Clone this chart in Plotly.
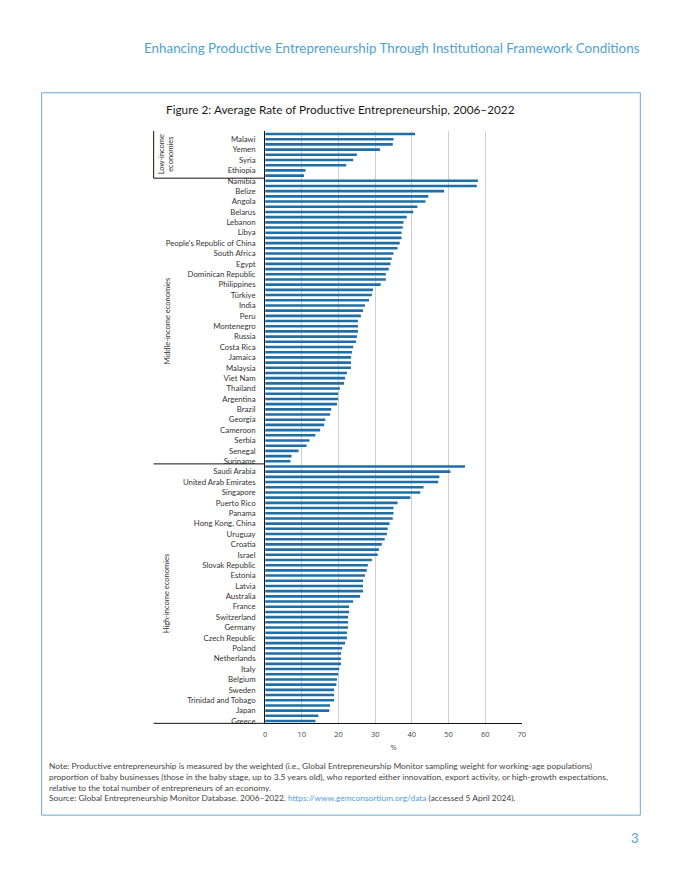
import plotly.graph_objects as go

# ---------------- data ----------------
low_labels = ["", "Malawi", "", "Yemen", "", "Syria", "", "Ethiopia", ""]
low_values = [40.9, 35.0, 34.8, 31.3, 25.0, 24.0, 22.1, 11.0, 10.6]

mid_labels = ["Namibia", "", "Belize", "", "Angola", "", "Belarus", "", "Lebanon", "",
              "Libya", "", "People's Republic of China", "", "South Africa", "", "Egypt", "",
              "Dominican Republic", "", "Philippines", "", "Türkiye", "", "India", "",
              "Peru", "", "Montenegro", "", "Russia", "", "Costa Rica", "", "Jamaica", "",
              "Malaysia", "", "Viet Nam", "", "Thailand", "", "Argentina", "", "Brazil", "",
              "Georgia", "", "Cameroon", "", "Serbia", "", "Senegal", "", "Suriname"]
mid_values = [58.0, 57.7, 48.8, 44.5, 43.7, 41.5, 40.4, 38.6, 37.7, 37.5,
              37.2, 37.2, 36.7, 36.1, 35.0, 34.5, 34.2, 33.7,
              32.9, 32.9, 31.5, 29.4, 29.1, 28.3, 27.2, 26.7,
              26.1, 25.3, 25.3, 25.3, 25.0, 24.8, 24.0, 23.7, 23.4, 23.4,
              23.4, 22.3, 21.8, 21.5, 20.4, 19.9, 19.9, 19.6, 18.0, 17.7,
              16.4, 16.1, 15.0, 13.7, 12.1, 11.3, 9.1, 7.2, 6.9]

high_labels = ["", "Saudi Arabia", "", "United Arab Emirates", "", "Singapore", "", "Puerto Rico",
               "", "Panama", "", "Hong Kong, China", "", "Uruguay", "", "Croatia", "", "Israel",
               "", "Slovak Republic", "", "Estonia", "", "Latvia", "", "Australia", "", "France",
               "", "Switzerland", "", "Germany", "", "Czech Republic", "", "Poland", "",
               "Netherlands", "", "Italy", "", "Belgium", "", "Sweden", "", "Trinidad and Tobago",
               "", "Japan", "", "Greece"]
high_values = [54.5, 50.5, 47.5, 47.2, 43.2, 42.3, 39.6, 36.1,
               35.0, 35.0, 34.8, 33.9, 33.4, 33.2, 32.6, 31.8, 31.0, 30.7,
               29.1, 28.0, 27.7, 27.2, 26.7, 26.7, 26.7, 25.9, 24.0, 22.9,
               22.9, 22.6, 22.6, 22.6, 22.3, 22.3, 21.8, 21.0, 20.7,
               20.7, 20.7, 20.2, 19.9, 19.6, 19.4, 18.8, 18.8, 18.8,
               17.7, 17.5, 14.5, 13.7]

group_names = ["Low-income<br>economies", "Middle-income economies", "High-income economies"]
x_ticks = [0, 10, 20, 30, 40, 50, 60, 70]

# ---------------- build ----------------
labels = low_labels + mid_labels + high_labels
values = low_values + mid_values + high_values
pos = list(range(len(values)))
tickvals = [i for i, l in enumerate(labels) if l]
ticktext = [l for l in labels if l]

sizes = [len(low_values), len(mid_values), len(high_values)]
bounds = []
start = 0
for s in sizes:
    bounds.append((start, start + s - 1))
    start += s

W, H = 680, 880
def px(x):
    return x / W
def py(y):
    return 1 - y / H

X0, X1 = 265.5, 524.5
Y_TOP, Y_BOT = 131, 725
n = len(values)
y_range = [n - 1 + 0.45, -0.64]

BLUE = "#1f6fa6"
LIGHT = "#4ea2d8"
FONT = "Lato"

fig = go.Figure()
fig.add_trace(go.Bar(
    x=values, y=pos, orientation="h",
    marker=dict(color=BLUE, line=dict(width=0)),
    width=0.5, hoverinfo="x",
))

fig.update_layout(
    width=W, height=H,
    margin=dict(l=0, r=0, t=0, b=0),
    paper_bgcolor="white", plot_bgcolor="white",
    showlegend=False,
    font=dict(family=FONT, color="#333"),
    xaxis=dict(
        domain=[px(X0), px(X1)], range=[0, 70], tickvals=x_ticks,
        showgrid=True, gridcolor="#cfcfcf", gridwidth=1,
        showline=True, linecolor="#111", linewidth=1,
        zeroline=False, ticks="", ticklabelstandoff=4,
        tickfont=dict(family="Open Sans", size=7.5, color="#444"),
        title=dict(text="%", font=dict(family="Open Sans", size=7.5, color="#444"), standoff=6),
    ),
    yaxis=dict(
        domain=[py(Y_BOT), py(Y_TOP)], range=y_range,
        tickvals=tickvals, ticktext=ticktext,
        showgrid=False, zeroline=False,
        showline=True, linecolor="#111", linewidth=1,
        ticks="", ticklabelstandoff=7,
        tickfont=dict(family=FONT, size=7.8, color="#333"),
    ),
    bargap=0.5,
)

shapes = []
# outer frame
shapes.append(dict(type="rect", xref="paper", yref="paper",
                   x0=px(40), x1=px(644), y0=py(817), y1=py(93),
                   line=dict(color="#6aa7cf", width=1)))
# extended bottom axis line
shapes.append(dict(type="line", xref="paper", yref="paper",
                   x0=px(153), x1=px(X0), y0=py(Y_BOT), y1=py(Y_BOT),
                   line=dict(color="#111", width=1)))
# group separators
for (a, b) in bounds[:-1]:
    shapes.append(dict(type="line", xref="paper", yref="y",
                       x0=px(153), x1=px(X0), y0=b + 0.5, y1=b + 0.5,
                       line=dict(color="#111", width=1)))
# left line of the low-income box
shapes.append(dict(type="line", xref="paper", yref="y",
                   x0=px(153), x1=px(153), y0=y_range[1], y1=bounds[0][1] + 0.5,
                   line=dict(color="#111", width=1)))
fig.update_layout(shapes=shapes)

ann = []
# header
ann.append(dict(text="Enhancing Productive Entrepreneurship Through Institutional Framework Conditions",
                xref="paper", yref="paper", x=px(646), y=py(48), xanchor="right", yanchor="middle",
                showarrow=False, font=dict(family=FONT, size=13.4, color=LIGHT)))
# figure title
ann.append(dict(text="Figure 2: Average Rate of Productive Entrepreneurship, 2006–2022",
                xref="paper", yref="paper", x=px(342), y=py(110), xanchor="center", yanchor="middle",
                showarrow=False, font=dict(family=FONT, size=11.8, color="#1a1a1a")))
# group labels
for name, (a, b) in zip(group_names, bounds):
    ann.append(dict(text=name, xref="paper", yref="y", x=px(166), y=(a + b) / 2,
                    xanchor="center", yanchor="middle", textangle=-90, showarrow=False,
                    font=dict(family=FONT, size=7.5, color="#333")))
# note
note_lines = [
    "Note: Productive entrepreneurship is measured by the weighted (i.e., Global Entrepreneurship Monitor sampling weight for working-age populations)",
    "proportion of baby businesses (those in the baby stage, up to 3.5 years old), who reported either innovation, export activity, or high-growth expectations,",
    "relative to the total number of entrepreneurs of an economy.",
    "Source: Global Entrepreneurship Monitor Database. 2006–2022. <span style='color:%s'>https://www.gemconsortium.org/data</span> (accessed 5 April 2024)." % LIGHT,
]
for i, line in enumerate(note_lines):
    ann.append(dict(text=line, xref="paper", yref="paper", x=px(45), y=py(768 + i * 10.7),
                    xanchor="left", yanchor="middle", showarrow=False, align="left",
                    font=dict(family=FONT, size=8.4, color="#444")))
# page number
ann.append(dict(text="3", xref="paper", yref="paper", x=px(645), y=py(840), xanchor="right",
                yanchor="middle", showarrow=False, font=dict(family=FONT, size=13, color=LIGHT)))
fig.update_layout(annotations=ann)

fig.write_html(
    "out.html",
    config={"displayModeBar": False},
    post_script="document.body.style.margin='0';document.body.style.padding='0';"
                "document.body.style.overflow='hidden';document.documentElement.style.overflow='hidden';",
)
